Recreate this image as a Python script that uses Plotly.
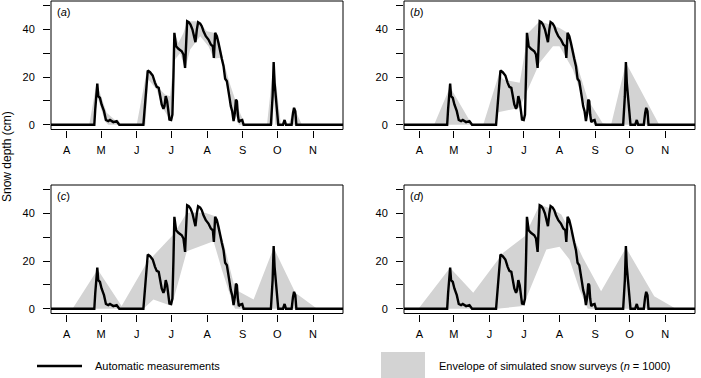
import plotly.graph_objects as go

# ---------------- data (days since 1 April) ----------------
month_ticks = [0, 30, 61, 91, 122, 153, 183, 214]
month_labels = ["A", "M", "J", "J", "A", "S", "O", "N"]
y_ticks = [0, 10, 20, 30, 40, 50]
y_labels = ["0", "", "20", "", "40", ""]

auto_days = [-20, 24.1, 24.9, 26.7, 27.5, 29.0, 30.4, 32.5, 34.2, 36.2, 37.7, 40.6, 43.5, 44.9, 45.8,
             66.7, 68.4, 70.5, 72.5, 74.8, 76.8, 78.3, 80.0, 81.2, 82.6, 84.1, 85.0, 86.1, 87.3, 88.4,
             89.3, 90.8, 91.9, 92.8, 93.6, 95.1, 97.1, 100.0, 101.5, 102.9, 103.8, 104.7, 106.1, 107.6,
             109.3, 110.8, 111.9, 113.1, 114.2, 116.0, 117.4, 118.9, 120.9, 123.2, 125.3, 127.0, 127.9,
             129.0, 130.5, 131.9, 133.4, 134.8, 136.3, 137.7, 139.2, 140.3, 141.5, 142.6, 143.8, 145.0,
             146.1, 147.0, 147.9, 148.7, 149.6, 150.8, 152.5, 153.7,
             177.4, 178.9, 179.8, 180.6, 181.5, 182.7, 183.8, 187.9, 189.3, 190.5,
             195.4, 196.6, 197.5, 198.6, 199.5, 250]
auto_depth = [0, 0, 6.4, 17.3, 12.0, 11.3, 8.5, 5.7, 2.0, 1.5, 2.0, 1.1, 1.5, 0.8, 0,
              0, 10.6, 22.8, 22.1, 20.7, 17.6, 15.9, 15.5, 12.7, 8.5, 6.7, 7.8, 12.0, 9.9, 5.7,
              2.2, 2.0, 4.3, 20.4, 38.6, 33.0, 31.9, 30.9, 29.5, 23.9, 34.4, 43.5, 43.1, 42.1,
              40.0, 37.2, 34.7, 40.0, 43.1, 42.5, 41.4, 39.3, 37.2, 35.8, 33.7, 33.0, 28.1,
              38.6, 37.2, 34.4, 30.2, 27.7, 24.6, 19.3, 18.3, 15.5, 11.3, 7.8, 5.7, 1.5,
              5.0, 10.6, 9.9, 4.3, 1.1, 1.8, 2.0, 0,
              0, 12.0, 26.3, 17.6, 12.0, 5.0, 0, 0, 2.0, 0,
              0, 5.0, 7.1, 5.7, 0, 0]

# envelopes: upper / lower boundaries for each panel
env_a_up_days = [-20, 19.7, 26.1, 29.0, 34.8, 42.0, 44.9, 47.0, 60.9, 69.6, 73.9, 78.3, 81.2, 85.5, 89.9,
                 92.8, 93.6, 97.1, 101.5, 104.7, 114.2, 121.8, 129.0, 131.9, 136.3, 141.5, 146.4, 149.3,
                 155.1, 174.0, 179.8, 182.1, 186.1, 192.8, 197.5, 204.4, 250]
env_a_up = [0, 0, 17.6, 13.4, 5.0, 2.0, 2.0, 0, 0, 22.5, 21.5, 17.6, 14.8, 12.7, 12.0,
            26.0, 38.6, 34.4, 38.6, 43.5, 43.5, 39.3, 38.6, 35.8, 26.7, 17.6, 10.6, 6.4,
            0, 0, 26.3, 16.2, 0, 0, 7.1, 0, 0]
env_a_lo_days = [-20, 24.1, 26.7, 29.0, 33.3, 36.2, 68.4, 71.0, 78.3, 82.6, 85.5, 89.9, 91.9, 94.2,
                 98.6, 102.9, 107.3, 111.6, 116.0, 123.2, 127.9, 133.4, 136.3, 139.2, 143.5, 145.0,
                 147.9, 149.6, 179.2, 179.8, 181.2, 250]
env_a_lo = [0, 0, 12.0, 8.5, 1.5, 0, 0, 19.0, 14.8, 7.8, 5.7, 2.0, 2.2, 27.4,
            30.2, 23.2, 31.6, 34.4, 37.2, 33.0, 27.7, 28.1, 23.9, 17.6, 5.0, 1.1,
            3.6, 0, 0, 16.2, 0, 0]

env_b_up_days = [-20, 12.7, 26.6, 45.4, 55.5, 69.4, 72.9, 87.3, 94.6, 104.7, 113.4, 122.0, 129.3,
                 133.6, 139.4, 146.6, 159.6, 166.9, 179.9, 208.8, 250]
env_b_up = [0, 0, 15.9, 0.3, 0, 21.5, 19.0, 17.6, 38.6, 43.5, 42.1, 40.7, 38.6,
            33.0, 21.8, 10.6, 0.6, 0, 26.0, 0, 0]
env_b_lo_days = [-20, 67.1, 68.5, 87.3, 104.7, 116.3, 122.0, 133.6, 142.3, 151.0, 152.4, 250]
env_b_lo = [0, 0, 5.3, 7.1, 26.0, 33.0, 33.0, 23.2, 10.6, 0.8, 0, 0]

env_c_up_days = [-20, 5.2, 27.0, 47.8, 69.6, 92.8, 104.4, 120.3, 129.0, 136.3, 146.4, 162.4, 179.8,
                 198.6, 217.5, 250]
env_c_up = [0, 0, 16.5, 1.1, 19.3, 31.2, 40.3, 40.3, 38.9, 27.7, 8.1, 3.9, 25.6, 6.7, 0, 0]
env_c_lo_days = [-20, 66.7, 75.4, 91.3, 104.4, 127.6, 134.8, 145.0, 146.4, 250]
env_c_lo = [0, 0, 3.9, 1.1, 24.2, 28.4, 16.5, 1.1, 0, 0]

env_d_up_days = [-20, -0.9, 26.6, 46.8, 72.9, 91.7, 104.7, 116.3, 123.5, 133.6, 142.3, 158.2, 179.9,
                 204.5, 223.3, 250]
env_d_up = [0, 0, 17.2, 6.7, 23.5, 30.5, 43.8, 41.7, 39.6, 30.5, 21.4, 7.4, 25.6, 5.3, 0, 0]
env_d_lo_days = [-20, 67.1, 90.2, 110.5, 122.0, 130.7, 139.4, 146.6, 250]
env_d_lo = [0, 0, 1.1, 24.9, 26.0, 20.7, 8.1, 0, 0]

panel_names = ["a", "b", "c", "d"]
envelopes = [
    (env_a_up_days, env_a_up, env_a_lo_days, env_a_lo),
    (env_b_up_days, env_b_up, env_b_lo_days, env_b_lo),
    (env_c_up_days, env_c_up, env_c_lo_days, env_c_lo),
    (env_d_up_days, env_d_up, env_d_lo_days, env_d_lo),
]

# ---------------- layout geometry ----------------
W, H = 701, 378
FONT = "Liberation Sans, Arial, Helvetica, sans-serif"
GRAY = "#D3D3D3"

def px_x(p):
    return p / W

def px_y(p):
    return 1 - p / H

x_domains = [(51, 343), (404, 695), (51, 343), (404, 695)]
y_domains = [(1, 129.5), (1, 129.5), (185, 313.5), (185, 313.5)]

fig = go.Figure()
layout = dict(
    width=W, height=H,
    margin=dict(l=0, r=0, t=0, b=0),
    paper_bgcolor="white", plot_bgcolor="white",
    showlegend=False,
    font=dict(family=FONT, size=11, color="black"),
)
shapes = []
annotations = []

for i, name in enumerate(panel_names):
    sfx = "" if i == 0 else str(i + 1)
    xa, ya = "x" + sfx, "y" + sfx
    up_d, up_v, lo_d, lo_v = envelopes[i]
    poly_x = list(up_d) + list(reversed(lo_d))
    poly_y = list(up_v) + list(reversed(lo_v))
    fig.add_trace(go.Scatter(x=poly_x, y=poly_y, mode="lines", fill="toself",
                             fillcolor=GRAY, line=dict(width=0, color=GRAY),
                             xaxis=xa, yaxis=ya, hoverinfo="skip"))
    fig.add_trace(go.Scatter(x=auto_days, y=auto_depth, mode="lines",
                             line=dict(color="black", width=2.4),
                             xaxis=xa, yaxis=ya))
    xd, yd = x_domains[i], y_domains[i]
    layout["xaxis" + sfx] = dict(
        domain=[px_x(xd[0]), px_x(xd[1])], anchor=ya,
        range=[-13.5, 240], tickvals=month_ticks, ticktext=month_labels,
        ticks="outside", ticklen=7, tickwidth=1, tickcolor="black",
        showgrid=False, zeroline=False, showline=False,
        tickfont=dict(size=11, color="black", family=FONT), ticklabelstandoff=3,
    )
    layout["yaxis" + sfx] = dict(
        domain=[px_y(yd[1]), px_y(yd[0])], anchor=xa,
        range=[-2, 52], tickvals=y_ticks, ticktext=y_labels,
        ticks="outside", ticklen=7, tickwidth=1, tickcolor="black",
        showgrid=False, zeroline=False, showline=False,
        tickfont=dict(size=11, color="black", family=FONT), ticklabelstandoff=6,
    )
    shapes.append(dict(type="rect", xref=xa + " domain", yref=ya + " domain",
                       x0=0, x1=1, y0=0, y1=1, line=dict(color="black", width=1),
                       fillcolor="rgba(0,0,0,0)", layer="above"))
    annotations.append(dict(text="(<i>%s</i>)" % name, xref=xa + " domain", yref=ya + " domain",
                            x=0.015, y=0.975, xanchor="left", yanchor="top", showarrow=False,
                            font=dict(size=11, color="black", family=FONT)))

# y-axis title
annotations.append(dict(text="Snow depth (cm)", xref="paper", yref="paper",
                        x=px_x(7), y=px_y(157), textangle=-90, showarrow=False,
                        xanchor="center", yanchor="middle",
                        font=dict(size=12, color="black", family=FONT)))

# legend (drawn manually)
shapes.append(dict(type="line", xref="paper", yref="paper",
                   x0=px_x(37), x1=px_x(82), y0=px_y(366), y1=px_y(366),
                   line=dict(color="black", width=2.4)))
annotations.append(dict(text="Automatic measurements", xref="paper", yref="paper",
                        x=px_x(93), y=px_y(366), xanchor="left", yanchor="middle",
                        showarrow=False, font=dict(size=11, color="black", family=FONT)))
shapes.append(dict(type="rect", xref="paper", yref="paper",
                   x0=px_x(381), x1=px_x(425), y0=px_y(380), y1=px_y(352),
                   line=dict(width=0), fillcolor=GRAY))
annotations.append(dict(text="Envelope of simulated snow surveys (<i>n</i> = 1000)",
                        xref="paper", yref="paper",
                        x=px_x(437), y=px_y(366), xanchor="left", yanchor="middle",
                        showarrow=False, font=dict(size=11, color="black", family=FONT)))

layout["shapes"] = shapes
layout["annotations"] = annotations
fig.update_layout(**layout)
fig.write_html("out.html", config={"displayModeBar": False},
               post_script="document.body.style.margin='0';document.body.style.overflow='hidden';")
